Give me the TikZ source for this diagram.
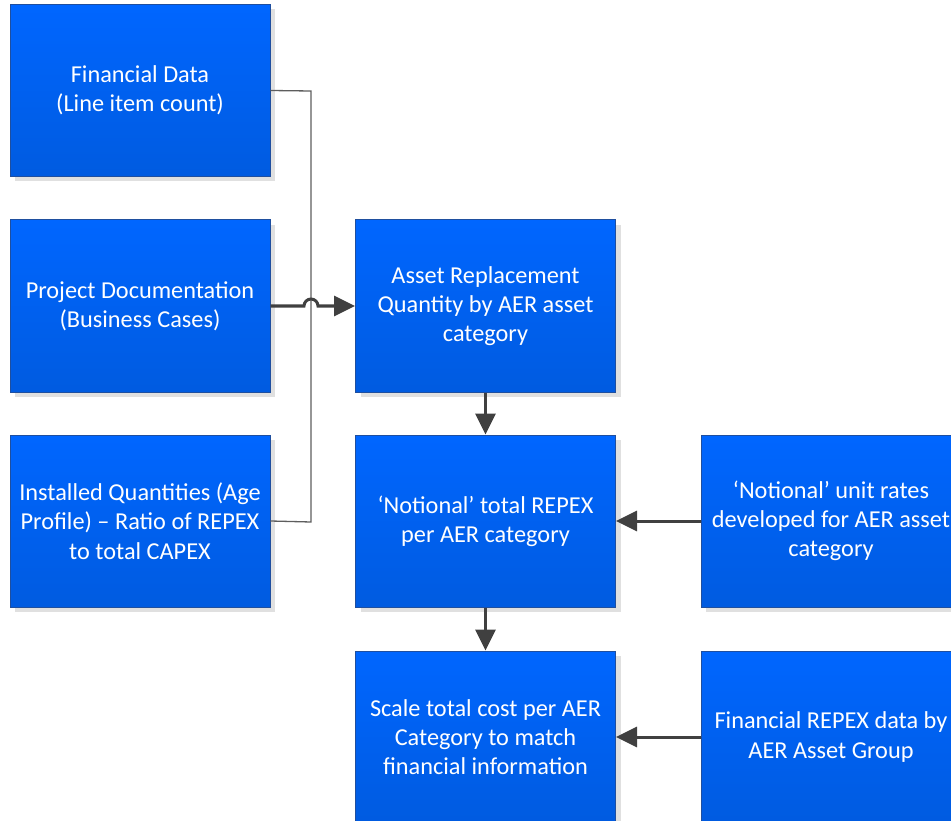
\documentclass[tikz,border=0pt]{standalone}
\usepackage{fontspec}
\setmainfont{Carlito}
\usetikzlibrary{arrows.meta,shadows}
\definecolor{boxtop}{HTML}{0066FF}
\definecolor{boxbot}{HTML}{005BE0}
\definecolor{boxline}{HTML}{1F4F9F}
\definecolor{conn}{HTML}{404040}
\tikzset{
  procbox/.style={rectangle, draw=boxline, line width=1pt,
    top color=boxtop, bottom color=boxbot,
    minimum width=260pt, minimum height=172pt, inner sep=2pt,
    text=white, align=center,
    font=\fontsize{24.3}{29.3}\selectfont,
    drop shadow={shadow xshift=5pt, shadow yshift=-5pt, fill=black!12, opacity=1}},
  thinlink/.style={draw=conn!85, line width=1.3pt},
  flowarrow/.style={draw=conn, line width=3pt,
    -{Triangle[length=21pt,width=20pt]}},
}
\begin{document}
\begin{tikzpicture}[x=1pt,y=-1pt]
\useasboundingbox (0,0) rectangle (951,821);
\node[procbox] (fd) at (140,90.5) {Financial Data\\(Line item count)};
\node[procbox] (pd) at (140,306) {Project Documentation\\(Business Cases)};
\node[procbox] (iq) at (140,521) {Installed Quantities (Age\\Profile) – Ratio of REPEX\\to total CAPEX};
\node[procbox] (ar) at (485.5,306) {Asset Replacement\\Quantity by AER asset\\category};
\node[procbox] (nt) at (485.5,521) {‘Notional’ total REPEX\\per AER category};
\node[procbox] (nu) at (831,521) {‘Notional’ unit rates\\developed for AER asset\\category};
\node[procbox] (sc) at (485.5,737) {Scale total cost per AER\\Category to match\\financial information};
\node[procbox] (fr) at (831,737) {Financial REPEX data by\\AER Asset Group};
\coordinate (jt) at (311,91);
\coordinate (jb) at (311,522);
\draw[thinlink] (fd.east) -- (jt) -- (jb) -- (iq.east);
\draw[flowarrow] (pd.east) -- (304,306) arc[start angle=180, end angle=360, radius=7] -- (ar.west);
\draw[flowarrow] (ar.south) -- (nt.north);
\draw[flowarrow] (nt.south) -- (sc.north);
\draw[flowarrow] (nu.west) -- (nt.east);
\draw[flowarrow] (fr.west) -- (sc.east);
\end{tikzpicture}
\end{document}
